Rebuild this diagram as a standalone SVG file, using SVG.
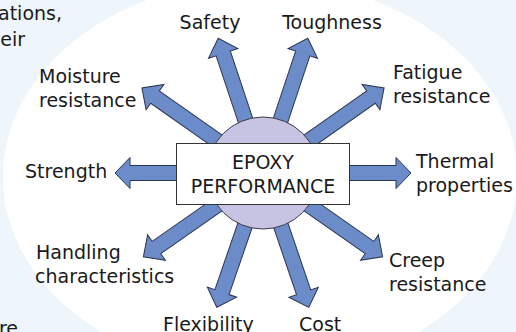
<svg xmlns="http://www.w3.org/2000/svg" width="516" height="332" viewBox="0 0 516 332">
<style>
text{font-family:"DejaVu Sans","Liberation Sans",sans-serif;font-size:19px;fill:#1a1a1a}
.arr{fill:#6b8cc8;stroke:#2b3550;stroke-width:1;stroke-linejoin:miter}
.c{text-anchor:middle}
.e{text-anchor:end}
</style>
<rect x="0" y="0" width="516" height="332" fill="#eef6fc"/>
<ellipse cx="260" cy="177" rx="257" ry="197" fill="#ffffff"/>
<g id="fragments">
<text class="e" x="62" y="20">ations,</text>
<text class="e" x="25" y="46">eir</text>
<text class="e" x="18" y="335">re</text>
</g>
<g id="connectors">
<path class="arr" transform="translate(263,173) rotate(-108.4)" d="M0,-7.5 H126 V-15.5 L142,0 L126,15.5 V7.5 H0 Z"/>
<path class="arr" transform="translate(263,173) rotate(-71.6)" d="M0,-7.5 H126 V-15.5 L142,0 L126,15.5 V7.5 H0 Z"/>
<path class="arr" transform="translate(263,173) rotate(-144.9)" d="M0,-7.5 H132 V-15.5 L148,0 L132,15.5 V7.5 H0 Z"/>
<path class="arr" transform="translate(263,173) rotate(-35.1)" d="M0,-7.5 H132 V-15.5 L148,0 L132,15.5 V7.5 H0 Z"/>
<path class="arr" transform="translate(263,173) rotate(180)" d="M0,-7.5 H133 V-15.5 L148,0 L133,15.5 V7.5 H0 Z"/>
<path class="arr" transform="translate(263,173)" d="M0,-7.5 H133 V-15.5 L148,0 L133,15.5 V7.5 H0 Z"/>
<path class="arr" transform="translate(263,173) rotate(145)" d="M0,-7.5 H130 V-15.5 L146,0 L130,15.5 V7.5 H0 Z"/>
<path class="arr" transform="translate(263,173) rotate(35)" d="M0,-7.5 H130 V-15.5 L146,0 L130,15.5 V7.5 H0 Z"/>
<path class="arr" transform="translate(263,173) rotate(109)" d="M0,-7.5 H126 V-15.5 L142,0 L126,15.5 V7.5 H0 Z"/>
<path class="arr" transform="translate(263,173) rotate(71.2)" d="M0,-7.5 H126 V-15.5 L142,0 L126,15.5 V7.5 H0 Z"/>
</g>
<g id="center">
<circle cx="263" cy="173" r="56" fill="#c6c4e2" stroke="#3a3a4a" stroke-width="1"/>
<rect x="176.5" y="143.5" width="173" height="61" fill="#ffffff" stroke="#333333" stroke-width="1"/>
<text class="c" x="263" y="169">EPOXY</text>
<text class="c" x="263" y="193">PERFORMANCE</text>
</g>
<g id="safety"><text class="c" x="210" y="29">Safety</text></g>
<g id="toughness"><text class="c" x="332" y="29">Toughness</text></g>
<g id="moisture"><text x="39" y="83">Moisture</text><text x="39" y="107">resistance</text></g>
<g id="fatigue"><text x="393" y="79">Fatigue</text><text x="393" y="103">resistance</text></g>
<g id="strength"><text x="25" y="178">Strength</text></g>
<g id="thermal"><text x="416" y="168">Thermal</text><text x="416" y="192">properties</text></g>
<g id="handling"><text x="36" y="259">Handling</text><text x="35" y="283">characteristics</text></g>
<g id="creep"><text x="389" y="267">Creep</text><text x="389" y="291">resistance</text></g>
<g id="flexibility"><text x="163" y="331">Flexibility</text></g>
<g id="cost"><text x="299" y="331">Cost</text></g>
</svg>
